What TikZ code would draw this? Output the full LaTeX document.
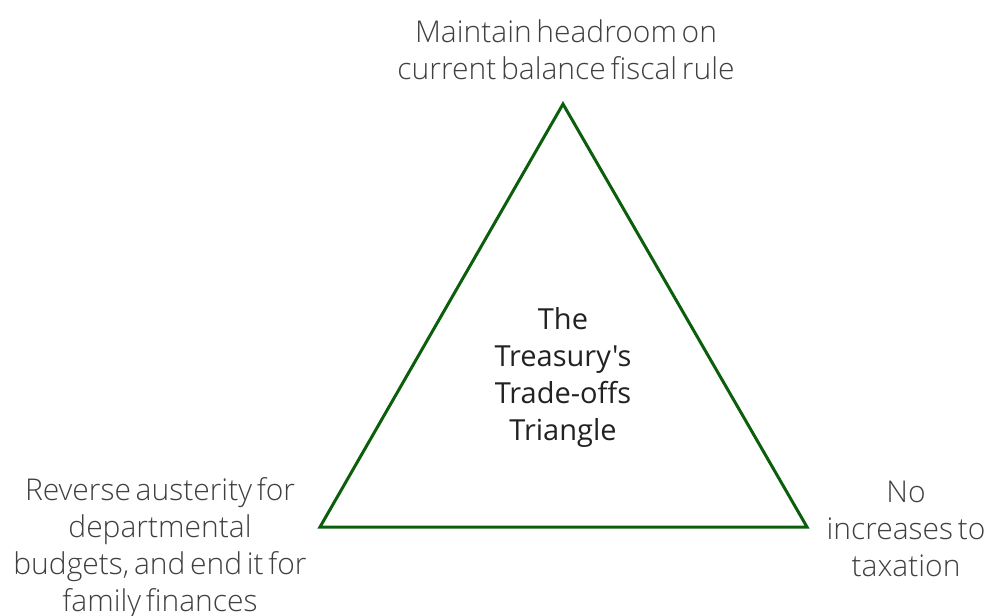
\documentclass[tikz,border=0pt]{standalone}
\usepackage{fontspec}
\setmainfont{Open Sans}[UprightFont={* Light},WordSpace=0.6]
\newfontfamily\midfont{Open Sans}[WordSpace=0.6]
\usetikzlibrary{positioning}
\definecolor{edgegreen}{HTML}{0B5E0B}
\definecolor{labelgray}{HTML}{404040}
\definecolor{titlegray}{HTML}{222222}

\begin{document}
\begin{tikzpicture}[x=1pt,y=-1pt,
  corner/.style={font=\fontsize{30}{37}\selectfont,text=labelgray,align=center,inner sep=0pt},
  title/.style={font=\midfont\fontsize{29}{37}\selectfont,text=titlegray,align=center,inner sep=0pt}]
  \useasboundingbox (0,0) rectangle (989,616);
  \coordinate (apex) at (563,104);
  \coordinate (left) at (320,527);
  \coordinate (right) at (807,527);
  \draw[edgegreen,line width=3pt,line join=miter] (apex) -- (left) -- (right) -- cycle;
  \node[title] (centre) at (563,377) {The\\Treasury's\\Trade-offs\\Triangle};
  \node[corner] (rule) at (566,50) {Maintain headroom on\\current balance fiscal rule};
  \node[corner] (spend) at (160,548) {Reverse austerity for\\departmental\\budgets, and end it for\\family finances};
  \node[corner] (tax) at (906,529) {No\\increases to\\taxation};
\end{tikzpicture}
\end{document}
